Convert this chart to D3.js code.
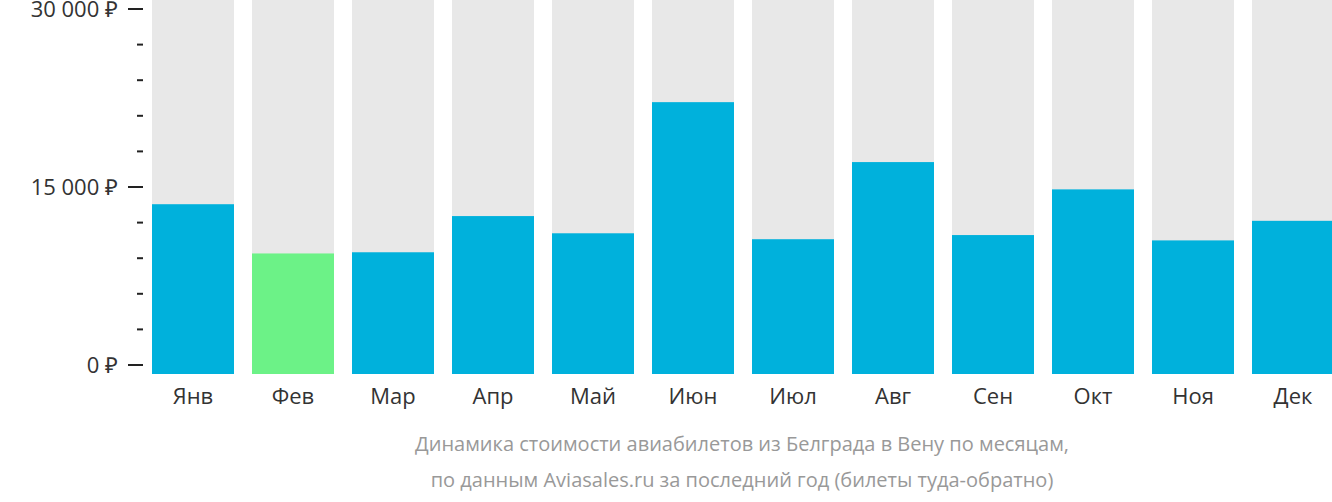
<!DOCTYPE html>
<html><head><meta charset="utf-8">
<script src="https://cdn.jsdelivr.net/npm/d3@7"></script>
<style>body{margin:0;background:#fff;font-family:"Open Sans",sans-serif}</style>
</head><body><div id="chart"></div>
<script>
var months = ["Янв","Фев","Мар","Апр","Май","Июн","Июл","Авг","Сен","Окт","Ноя","Дек"];
var prices = [13550, 9400, 9500, 12550, 11100, 22150, 10600, 17100, 10950, 14800, 10500, 12150];
var cheapest = "Фев";
var majorTicks = [0, 15000, 30000];
var caption = ["Динамика стоимости авиабилетов из Белграда в Вену по месяцам,",
               "по данным Aviasales.ru за последний год (билеты туда-обратно)"];

var W = 1332, H = 502;
var svg = d3.select("#chart").append("svg").attr("width", W).attr("height", H);

var x = d3.scaleBand().domain(months).range([152, 1334]).paddingInner(0.18).paddingOuter(0);
var y = d3.scaleLinear().domain([0, 30000]).range([365, 9]);
var bottom = 374;

// grey background columns
svg.selectAll("rect.bg").data(months).enter().append("rect")
    .attr("x", function (d) { return x(d); })
    .attr("y", 0)
    .attr("width", x.bandwidth())
    .attr("height", bottom)
    .attr("fill", "#e8e8e8");

// price bars
svg.selectAll("rect.bar").data(prices).enter().append("rect")
    .attr("x", function (d, i) { return x(months[i]); })
    .attr("y", function (d) { return y(d); })
    .attr("width", x.bandwidth())
    .attr("height", function (d) { return bottom - y(d); })
    .attr("fill", function (d, i) { return months[i] == cheapest ? "#6cf287" : "#00b1dc"; });

// y axis ticks
var ticks = d3.range(0, 30001, 3000);
svg.selectAll("line.tick").data(ticks).enter().append("line")
    .attr("x1", function (d) { return majorTicks.indexOf(d) >= 0 ? 128 : 137; })
    .attr("x2", 143)
    .attr("y1", function (d) { return y(d); })
    .attr("y2", function (d) { return y(d); })
    .attr("stroke", "#222").attr("stroke-width", 2);

svg.selectAll("text.ylab").data(majorTicks).enter().append("text")
    .attr("x", 118)
    .attr("y", function (d) { return y(d) + 8; })
    .attr("text-anchor", "end")
    .attr("font-size", 22)
    .attr("fill", "#333")
    .text(function (d) { return d3.format(",")(d).replace(/,/g, " ") + " ₽"; });

// month labels
svg.selectAll("text.mlab").data(months).enter().append("text")
    .attr("x", function (d) { return x(d) + x.bandwidth() / 2; })
    .attr("y", 404)
    .attr("text-anchor", "middle")
    .attr("font-size", 22)
    .attr("fill", "#333")
    .text(function (d) { return d; });

// caption
svg.selectAll("text.cap").data(caption).enter().append("text")
    .attr("x", 742)
    .attr("y", function (d, i) { return 451 + i * 36; })
    .attr("text-anchor", "middle")
    .attr("font-size", 20)
    .attr("fill", "#999")
    .text(function (d) { return d; });
</script></body></html>
